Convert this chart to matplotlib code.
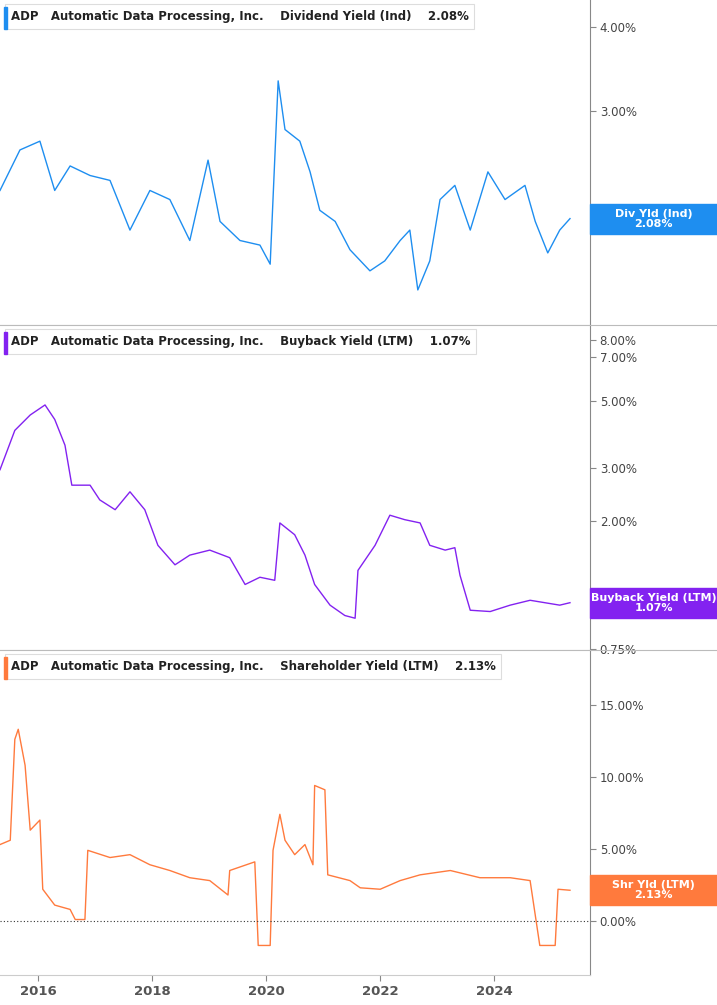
import matplotlib
matplotlib.use("Agg")
import matplotlib.pyplot as plt
from matplotlib.ticker import FixedLocator, NullLocator

# time axis in fractional years
div_t = [2015.33, 2015.68, 2016.03, 2016.29, 2016.56, 2016.91, 2017.26, 2017.61, 2017.96,
         2018.31, 2018.66, 2018.98, 2019.19, 2019.54, 2019.89, 2020.07, 2020.21, 2020.33,
         2020.59, 2020.77, 2020.94, 2021.21, 2021.47, 2021.82, 2022.08, 2022.35, 2022.52,
         2022.66, 2022.87, 2023.05, 2023.31, 2023.58, 2023.89, 2024.19, 2024.54, 2024.72,
         2024.94, 2025.15, 2025.33]
div_v = [2.29, 2.63, 2.71, 2.29, 2.49, 2.41, 2.37, 2.00, 2.29, 2.22, 1.93, 2.54, 2.06, 1.93,
         1.90, 1.78, 3.33, 2.82, 2.71, 2.44, 2.14, 2.06, 1.87, 1.74, 1.80, 1.93, 2.00, 1.63,
         1.80, 2.22, 2.33, 2.00, 2.44, 2.22, 2.33, 2.06, 1.85, 2.00, 2.08]

bb_t = [2015.33, 2015.59, 2015.86, 2016.12, 2016.29, 2016.47, 2016.59, 2016.91, 2017.08,
        2017.35, 2017.61, 2017.87, 2018.10, 2018.40, 2018.66, 2019.01, 2019.36, 2019.63,
        2019.89, 2020.15, 2020.24, 2020.50, 2020.68, 2020.85, 2021.12, 2021.38, 2021.56,
        2021.61, 2021.91, 2022.17, 2022.43, 2022.70, 2022.87, 2023.14, 2023.31, 2023.40,
        2023.58, 2023.93, 2024.28, 2024.63, 2025.15, 2025.33]
bb_v = [2.96, 4.00, 4.50, 4.86, 4.35, 3.57, 2.63, 2.63, 2.35, 2.18, 2.50, 2.18, 1.66, 1.43,
        1.54, 1.60, 1.51, 1.23, 1.30, 1.27, 1.97, 1.80, 1.54, 1.23, 1.05, 0.97, 0.95, 1.37,
        1.66, 2.09, 2.02, 1.97, 1.66, 1.60, 1.63, 1.32, 1.01, 1.00, 1.05, 1.09, 1.05, 1.07]

shr_t = [2015.33, 2015.51, 2015.59, 2015.65, 2015.77, 2015.86, 2016.03, 2016.08, 2016.29,
         2016.56, 2016.65, 2016.82, 2016.87, 2017.26, 2017.61, 2017.96, 2018.31, 2018.66,
         2019.01, 2019.33, 2019.36, 2019.80, 2019.86, 2020.07, 2020.12, 2020.24, 2020.33,
         2020.50, 2020.68, 2020.82, 2020.85, 2021.03, 2021.08, 2021.47, 2021.65, 2022.00,
         2022.35, 2022.70, 2023.23, 2023.75, 2024.28, 2024.63, 2024.80, 2025.07, 2025.12,
         2025.33]
shr_v = [5.3, 5.6, 12.6, 13.3, 10.8, 6.3, 7.0, 2.2, 1.1, 0.8, 0.1, 0.1, 4.9, 4.4, 4.6, 3.9,
         3.5, 3.0, 2.8, 1.8, 3.5, 4.1, -1.7, -1.7, 4.9, 7.4, 5.6, 4.6, 5.3, 3.9, 9.4, 9.1, 3.2,
         2.8, 2.3, 2.2, 2.8, 3.2, 3.5, 3.0, 3.0, 2.8, -1.7, -1.7, 2.2, 2.13]

year_ticks = [2016, 2018, 2020, 2022, 2024]

panels = [
    dict(t=div_t, v=div_v, color="#1e8ef0", log=True, ylim=(1.446, 4.39),
         ticks=[2, 3, 4], title="Dividend Yield (Ind)", last="2.08%", badge="Div Yld (Ind)"),
    dict(t=bb_t, v=bb_v, color="#8322f0", log=True, ylim=(0.745, 8.96),
         ticks=[0.75, 1, 2, 3, 5, 7, 8], title="Buyback Yield (LTM)", last="1.07%",
         badge="Buyback Yield (LTM)"),
    dict(t=shr_t, v=shr_v, color="#ff7a3d", log=False, ylim=(-3.75, 18.8),
         ticks=[0, 5, 10, 15], title="Shareholder Yield (LTM)", last="2.13%",
         badge="Shr Yld (LTM)"),
]

W, H = 717, 1005
fig = plt.figure(figsize=(W / 100, H / 100), dpi=100)
right = 590 / W
ph = 325 / H
xlim = (2015.33, 2015.33 + 590 / 57)

for i, p in enumerate(panels):
    bottom = (H - 325 * (i + 1)) / H
    ax = fig.add_axes([0, bottom, right, ph])
    ax.plot(p["t"], p["v"], color=p["color"], lw=1.0)
    if p["log"]:
        ax.set_yscale("log")
    ax.set_ylim(*p["ylim"])
    ax.set_xlim(*xlim)
    ax.yaxis.tick_right()
    ax.yaxis.set_major_locator(FixedLocator(p["ticks"]))
    ax.yaxis.set_minor_locator(NullLocator())
    ax.set_yticklabels([f"{t:.2f}%" for t in p["ticks"]], fontsize=8.5, color="#444444")
    ax.tick_params(axis="y", length=4, color="#888888", pad=3)
    for s in ("top", "left"):
        ax.spines[s].set_visible(False)
    ax.spines["right"].set_color("#888888")
    ax.spines["bottom"].set_color("#cccccc")
    ax.xaxis.set_major_locator(FixedLocator(year_ticks))
    if i < 2:
        ax.tick_params(axis="x", length=0, labelbottom=False)
    else:
        ax.set_xticklabels([str(y) for y in year_ticks], fontsize=9.5,
                           fontweight="bold", color="#555555")
        ax.tick_params(axis="x", length=4, color="#888888")
        ax.axhline(0, color="#333333", lw=0.8, ls=(0, (1, 2)))
    ax.grid(False)

    # title box
    ax.text(0.018, 0.948, f"ADP   Automatic Data Processing, Inc.    {p['title']}    {p['last']}",
            transform=ax.transAxes, fontsize=8.5, fontweight="bold", color="#222222",
            va="center", ha="left",
            bbox=dict(boxstyle="square,pad=0.5", fc="white", ec="#dddddd", lw=0.8))
    fig.patches.append(plt.Rectangle((4 / W, bottom + (325 - 29) / H), 3 / W, 22 / H,
                                     transform=fig.transFigure, color=p["color"]))
    # value badge
    last_v = p["v"][-1]
    yfrac = ax.transAxes.inverted().transform(ax.transData.transform((xlim[1], last_v)))[1]
    ybadge = bottom + yfrac * ph
    fig.patches.append(plt.Rectangle((right, ybadge - 15 / H), (W - 590) / W, 30 / H,
                                     transform=fig.transFigure, color=p["color"], zorder=5))
    fig.text((right + 1) / 2, ybadge, f"{p['badge']}\n{p['last']}", ha="center", va="center",
             color="white", fontsize=8, fontweight="bold", linespacing=1.0, zorder=6)
    # panel separator
    if i > 0:
        fig.add_artist(plt.Line2D([0, 1], [bottom + ph, bottom + ph],
                                  transform=fig.transFigure, color="#bbbbbb", lw=0.8))

fig.savefig("out.png", dpi=100)
